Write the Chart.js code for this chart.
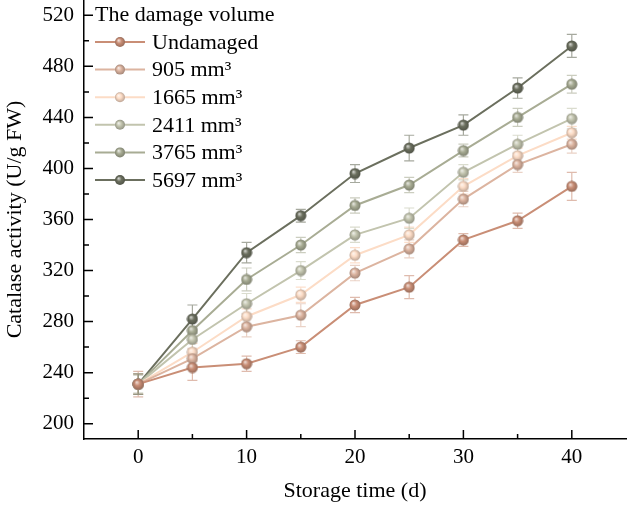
<!DOCTYPE html>
<html>
<head>
<meta charset="utf-8">
<script src="https://cdn.jsdelivr.net/npm/chart.js@4"></script>
<style>
  html, body { margin: 0; padding: 0; background: #fff; }
  #wrap { width: 627px; height: 508px; }
</style>
</head>
<body>
<div id="wrap"><canvas id="myChart"></canvas></div>
<script>
const days = [0, 5, 10, 15, 20, 25, 30, 35, 40];
const seriesNames = ["Undamaged", "905 mm³", "1665 mm³", "2411 mm³", "3765 mm³", "5697 mm³"];
const undamaged = [231, 244, 247, 260, 293, 307, 344, 359, 386];
const v905 = [231, 251, 276, 285, 318, 337, 376, 403, 419];
const v1665 = [231, 256, 284, 301, 332, 348, 386, 410, 428];
const v2411 = [231, 266, 294, 320, 348, 361, 397, 419, 439];
const v3765 = [231, 273, 313, 340, 371, 387, 414, 440, 466];
const v5697 = [231, 282, 334, 363, 396, 416, 434, 463, 496];
const errUndamaged = [10, 10, 6, 5, 6, 9, 5, 6, 11];
const err905 = [8, 8, 8, 9, 6, 7, 6, 6, 7];
const err1665 = [8, 7, 6, 6, 6, 6, 6, 6, 5];
const err2411 = [8, 8, 8, 7, 6, 8, 6, 7, 8];
const err3765 = [7, 8, 9, 6, 6, 6, 5, 7, 7];
const err5697 = [8, 11, 8, 5, 7, 10, 8, 8, 9];
const xMajorTicks = [0, 10, 20, 30, 40];
const xMinorTicks = [5, 15, 25, 35];
const yMajorTicks = [200, 240, 280, 320, 360, 400, 440, 480, 520];
const yMinorTicks = [220, 260, 300, 340, 380, 420, 460, 500];

const colors = ["#c98e76", "#dcb4a0", "#fcdcc6", "#c2c4ae", "#a8ac94", "#6b6f5e"];
const values = [undamaged, v905, v1665, v2411, v3765, v5697];
const errors = [errUndamaged, err905, err1665, err2411, err3765, err5697];

const FONT = "'Liberation Serif', 'Times New Roman', serif";

function hexRgb(h) {
  const n = parseInt(h.slice(1), 16);
  return [(n >> 16) & 255, (n >> 8) & 255, n & 255];
}
function mix(h, t, f) {
  const c = hexRgb(h);
  return "rgb(" + c.map((v) => Math.round(v + (t - v) * f)).join(",") + ")";
}
function rgba(h, a) {
  const c = hexRgb(h);
  return "rgba(" + c.join(",") + "," + a + ")";
}

function drawSphere(g, cx, cy, r, col) {
  const grad = g.createRadialGradient(cx - r * 0.3, cy - r * 0.35, 0.3, cx, cy, r);
  grad.addColorStop(0, mix(col, 255, 0.7));
  grad.addColorStop(0.45, col);
  grad.addColorStop(1, mix(col, 0, 0.25));
  g.beginPath();
  g.arc(cx, cy, r, 0, Math.PI * 2);
  g.fillStyle = grad;
  g.fill();
}

function sphereCanvas(col) {
  const c = document.createElement("canvas");
  c.width = 12; c.height = 12;
  drawSphere(c.getContext("2d"), 6, 6, 5.5, col);
  return c;
}

const datasets = seriesNames.map((name, i) => ({
  label: name,
  data: days.map((d, j) => ({ x: d, y: values[i][j] })),
  borderColor: colors[i],
  backgroundColor: colors[i],
  borderWidth: 2,
  pointStyle: sphereCanvas(colors[i]),
  pointRadius: 6,
  tension: 0,
}));

// error bars, tick marks and legend
const extras = {
  id: "extras",
  beforeDatasetsDraw(chart) {
    const g = chart.ctx, xs = chart.scales.x, ys = chart.scales.y;
    g.save();
    g.lineWidth = 1.2;
    values.forEach((vals, i) => {
      g.strokeStyle = i === 2 ? rgba(colors[i], 0.9) : rgba(colors[i], 0.6);
      vals.forEach((v, j) => {
        const px = xs.getPixelForValue(days[j]);
        const top = ys.getPixelForValue(v + errors[i][j]);
        const bot = ys.getPixelForValue(v - errors[i][j]);
        g.beginPath();
        g.moveTo(px, top); g.lineTo(px, bot);
        g.moveTo(px - 5, top); g.lineTo(px + 5, top);
        g.moveTo(px - 5, bot); g.lineTo(px + 5, bot);
        g.stroke();
      });
    });
    g.restore();
  },
  afterDatasetsDraw(chart) {
    const g = chart.ctx, xs = chart.scales.x, ys = chart.scales.y;
    const a = chart.chartArea;
    g.save();
    g.strokeStyle = "#000";
    g.lineWidth = 1.5;
    g.beginPath();
    xMajorTicks.forEach((t) => { const p = xs.getPixelForValue(t); g.moveTo(p, a.bottom); g.lineTo(p, a.bottom - 9); });
    xMinorTicks.forEach((t) => { const p = xs.getPixelForValue(t); g.moveTo(p, a.bottom); g.lineTo(p, a.bottom - 5); });
    yMajorTicks.forEach((t) => { const p = ys.getPixelForValue(t); g.moveTo(a.left, p); g.lineTo(a.left + 9, p); });
    yMinorTicks.forEach((t) => { const p = ys.getPixelForValue(t); g.moveTo(a.left, p); g.lineTo(a.left + 5, p); });
    g.stroke();

    // legend
    g.fillStyle = "#000";
    g.textBaseline = "middle";
    g.textAlign = "left";
    g.font = "22px " + FONT;
    g.fillText("The damage volume", 95, 15);
    seriesNames.forEach((name, i) => {
      const y = 42 + i * 27.6;
      g.strokeStyle = colors[i];
      g.lineWidth = 2;
      g.beginPath(); g.moveTo(95, y); g.lineTo(145, y); g.stroke();
      drawSphere(g, 120, y, 5, colors[i]);
      g.fillStyle = "#000";
      g.fillText(name, 152, y + 1);
    });
    g.restore();
  },
};

new Chart(document.getElementById("myChart"), {
  type: "line",
  data: { datasets },
  plugins: [extras],
  options: {
    responsive: true,
    maintainAspectRatio: false,
    animation: false,
    layout: { autoPadding: false, padding: { left: 0, right: 1, top: 0, bottom: 0 } },
    plugins: { legend: { display: false }, tooltip: { enabled: false } },
    scales: {
      x: {
        type: "linear",
        min: -5,
        max: 45,
        afterFit: (s) => { s.height = 69; s.paddingLeft = 0; s.paddingRight = 0; },
        afterBuildTicks: (s) => { s.ticks = xMajorTicks.map((v) => ({ value: v })); },
        grid: { display: false, drawTicks: false },
        border: { display: true, color: "#000", width: 1.5 },
        ticks: { autoSkip: false, maxRotation: 0, padding: 6, color: "#000", font: { family: FONT, size: 21 } },
        title: { display: true, text: "Storage time (d)", color: "#000", font: { family: FONT, size: 22 }, padding: { top: 4, bottom: 4 } },
      },
      y: {
        min: 188,
        max: 532,
        afterFit: (s) => { s.width = 84; s.paddingTop = 0; s.paddingBottom = 0; },
        afterBuildTicks: (s) => { s.ticks = yMajorTicks.map((v) => ({ value: v })); },
        grid: { display: false, drawTicks: false },
        border: { display: true, color: "#000", width: 1.5 },
        ticks: { padding: 10, color: "#000", font: { family: FONT, size: 21 } },
        title: { display: true, text: "Catalase activity (U/g FW)", color: "#000", font: { family: FONT, size: 22 }, padding: { top: 2, bottom: 2 } },
      },
    },
  },
});
</script>
</body>
</html>
